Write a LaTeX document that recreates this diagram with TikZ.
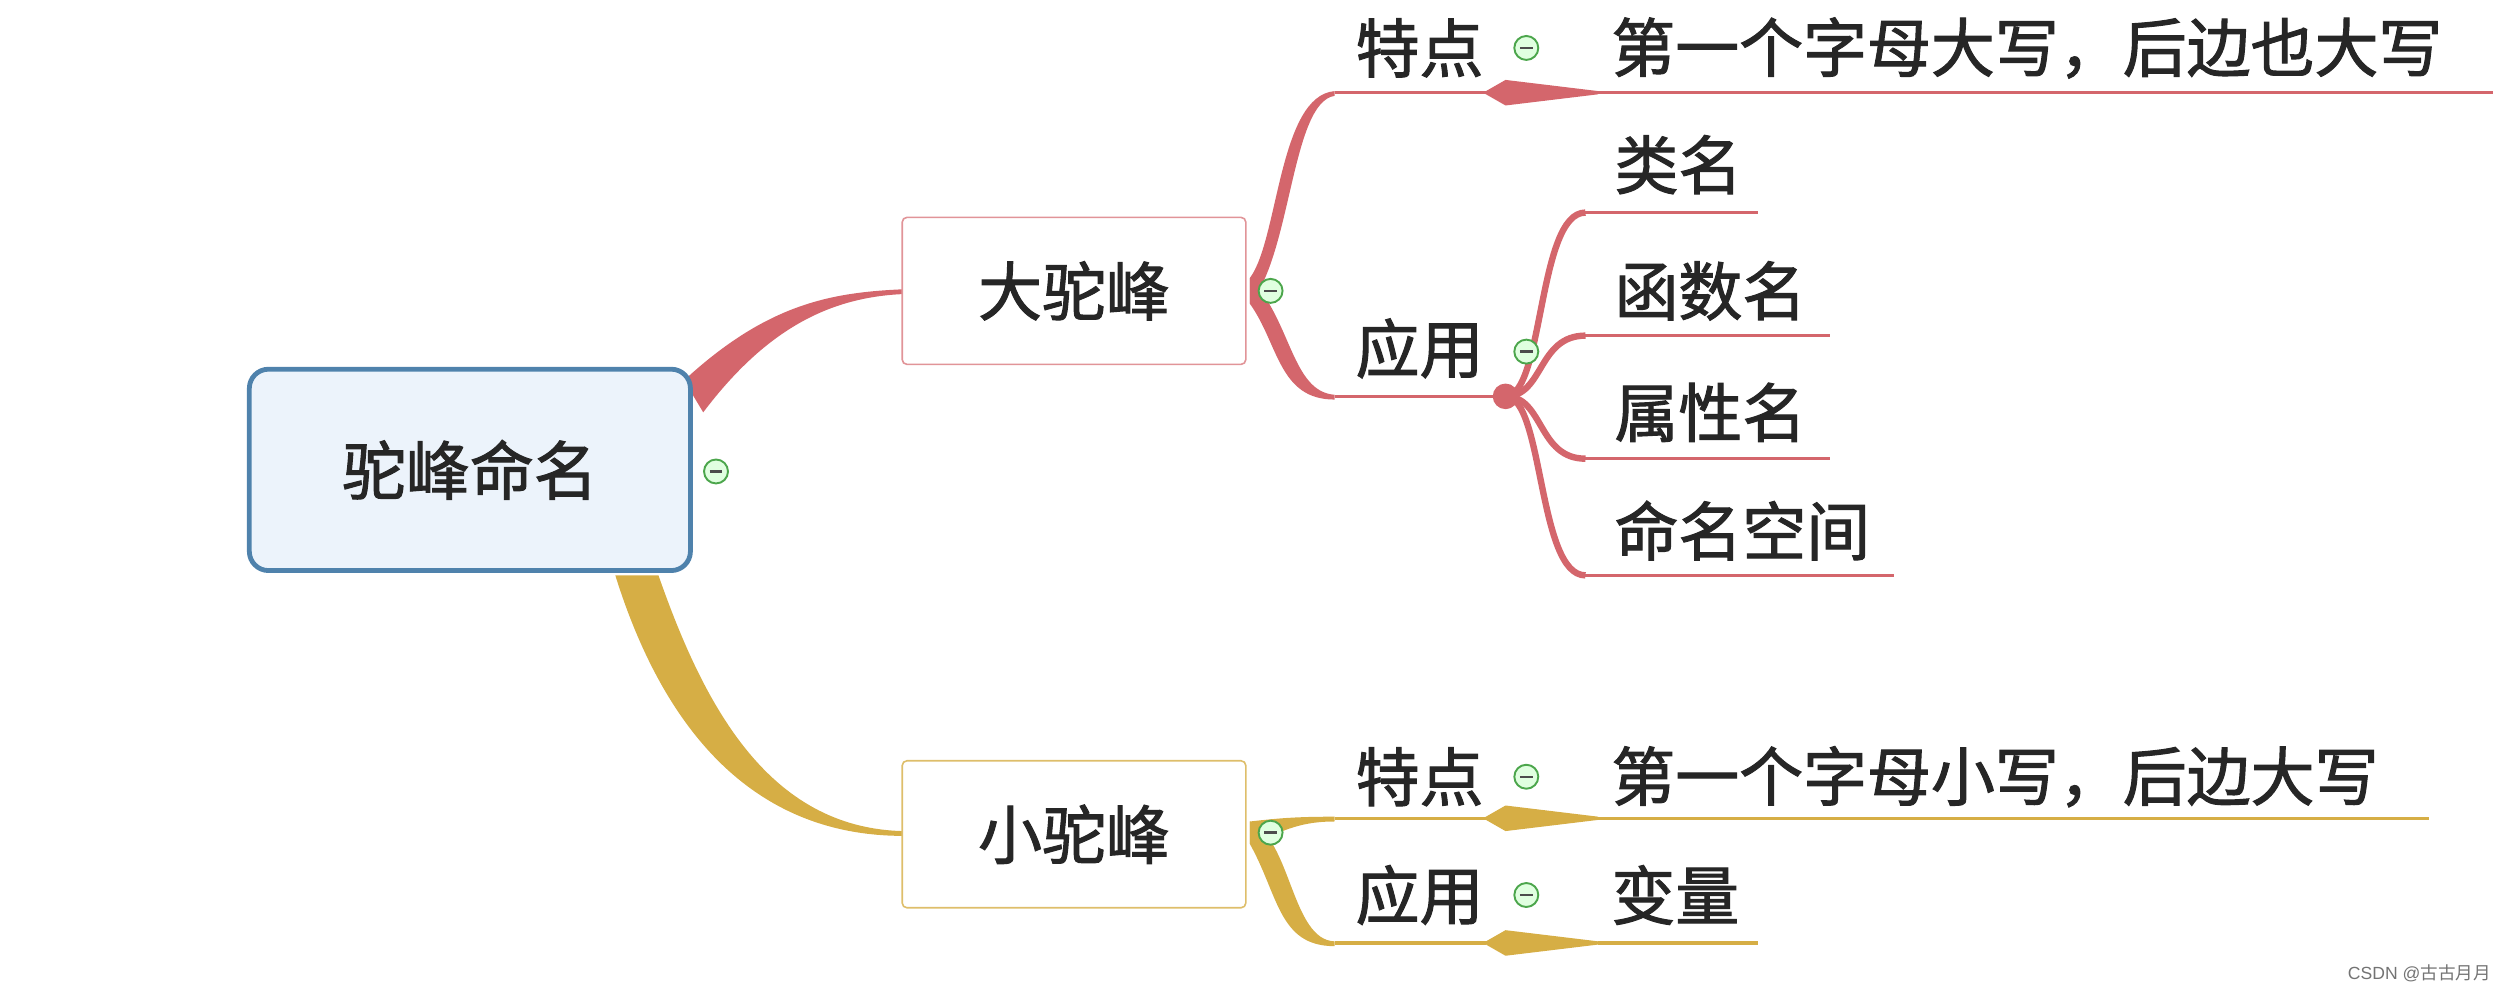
\documentclass[tikz,border=0pt]{standalone}
\usepackage{fontspec}
\setmainfont{Noto Sans CJK SC}[BoldFont={Noto Sans CJK SC},BoldFeatures={FakeBold=1.6}]
\newfontfamily\wm{Liberation Sans}
\begin{document}
\begin{tikzpicture}[x=1pt,y=-1pt,
  txt/.style={font=\fontsize{40}{44}\selectfont\bfseries, text=black!85, inner sep=0pt, anchor=west},
  col/.style={circle, draw=green!50!black!70, fill=green!12, line width=1.2pt, minimum size=15pt, inner sep=0pt,
     path picture={\draw[line width=1.5pt,black!70] ([xshift=-4pt]path picture bounding box.center) -- ([xshift=4pt]path picture bounding box.center);}}]
\definecolor{rd}{HTML}{D4666C}
\definecolor{gd}{HTML}{D6AE45}
\definecolor{rootb}{HTML}{4F82AC}
\useasboundingbox (0,0) rectangle (1568,621);
% branches first
\fill[rd] (428,238) .. controls (480,190) and (520,183) .. (565,181) -- (565,184) .. controls (520,186) and (480,205) .. (440,258) -- cycle;
\fill[rd] (782,174) .. controls (800,150) and (800,60) .. (835,57) -- (835,60) .. controls (808,64) and (808,160) .. (782,190) -- cycle;
\fill[rd] (782,174) .. controls (808,200) and (808,245) .. (835,247) -- (835,250) .. controls (800,250) and (800,215) .. (782,190) -- cycle;
\draw[rd, line width=2pt] (835,58) -- (930,58);
\draw[rd, line width=2pt] (835,248) -- (940,248);
\fill[rd] (928,58) -- (942,50) -- (1000,57) -- (1000,59) -- (942,66) -- cycle;
\draw[rd, line width=2pt] (1000,58) -- (1560,58);
\fill[rd] (942,248) circle (8pt);
\foreach \yy/\xe in {133/1100,210/1145,287/1145,360/1185}{
  \draw[rd, line width=4pt] (942,248) .. controls (966,248) and (962,\yy) .. (992,\yy);
  \draw[rd, line width=2pt] (988,\yy) -- (\xe,\yy);
}
\fill[gd] (412,360) .. controls (440,440) and (480,518) .. (565,520) -- (565,523) .. controls (460,523) and (410,440) .. (385,360) -- cycle;
\fill[gd] (782,514) .. controls (800,512) and (810,511) .. (835,511) -- (835,514) .. controls (810,514) and (800,522) .. (782,528) -- cycle;
\fill[gd] (782,514) .. controls (808,525) and (808,588) .. (835,589) -- (835,592) .. controls (800,592) and (800,560) .. (782,528) -- cycle;
\draw[gd, line width=2pt] (835,512) -- (930,512);
\draw[gd, line width=2pt] (835,590) -- (930,590);
\fill[gd] (928,512) -- (942,504) -- (1000,511) -- (1000,513) -- (942,520) -- cycle;
\draw[gd, line width=2pt] (1000,512) -- (1520,512);
\fill[gd] (928,590) -- (942,582) -- (1000,589) -- (1000,591) -- (942,598) -- cycle;
\draw[gd, line width=2pt] (1000,590) -- (1100,590);
% nodes
\node[draw=rootb, line width=3pt, fill={rgb,255:red,236;green,243;blue,251}, rounded corners=12pt, minimum width=276pt, minimum height=126pt, font=\fontsize{40}{44}\selectfont\bfseries, text=black!85] (root) at (294,294) {驼峰命名};
\node[draw=rd!70, fill=white, line width=1pt, rounded corners=3pt, minimum width=215pt, minimum height=92pt, font=\fontsize{40}{44}\selectfont\bfseries, text=black!85] (big) at (672,182) {大驼峰};
\node[draw=gd!80, fill=white, line width=1pt, rounded corners=3pt, minimum width=215pt, minimum height=92pt, font=\fontsize{40}{44}\selectfont\bfseries, text=black!85] (small) at (672,522) {小驼峰};
\node[txt] (t1) at (848,30) {特点};
\node[txt] (t1v) at (1008,30) {第一个字母大写，后边也大写};
\node[txt] (a1) at (848,218) {应用};
\node[txt] (l1) at (1010,103) {类名};
\node[txt] (l2) at (1010,182) {函数名};
\node[txt] (l3) at (1010,258) {属性名};
\node[txt] (l4) at (1010,332) {命名空间};
\node[txt] (t2) at (848,486) {特点};
\node[txt] (t2v) at (1008,486) {第一个字母小写，后边大写};
\node[txt] (a2) at (848,560) {应用};
\node[txt] (a2v) at (1008,560) {变量};
\node[col] (c0) at (448,295) {};
\node[col] (c1) at (795,182) {};
\node[col] (c2) at (955,30) {};
\node[col] (c3) at (955,220) {};
\node[col] (c4) at (795,521) {};
\node[col] (c5) at (955,486) {};
\node[col] (c6) at (955,560) {};
\node[font=\fontsize{11}{12}\selectfont, text=black!55, anchor=east] (wm) at (1562,609) {{\wm CSDN @}古古月月};
\end{tikzpicture}
\end{document}
